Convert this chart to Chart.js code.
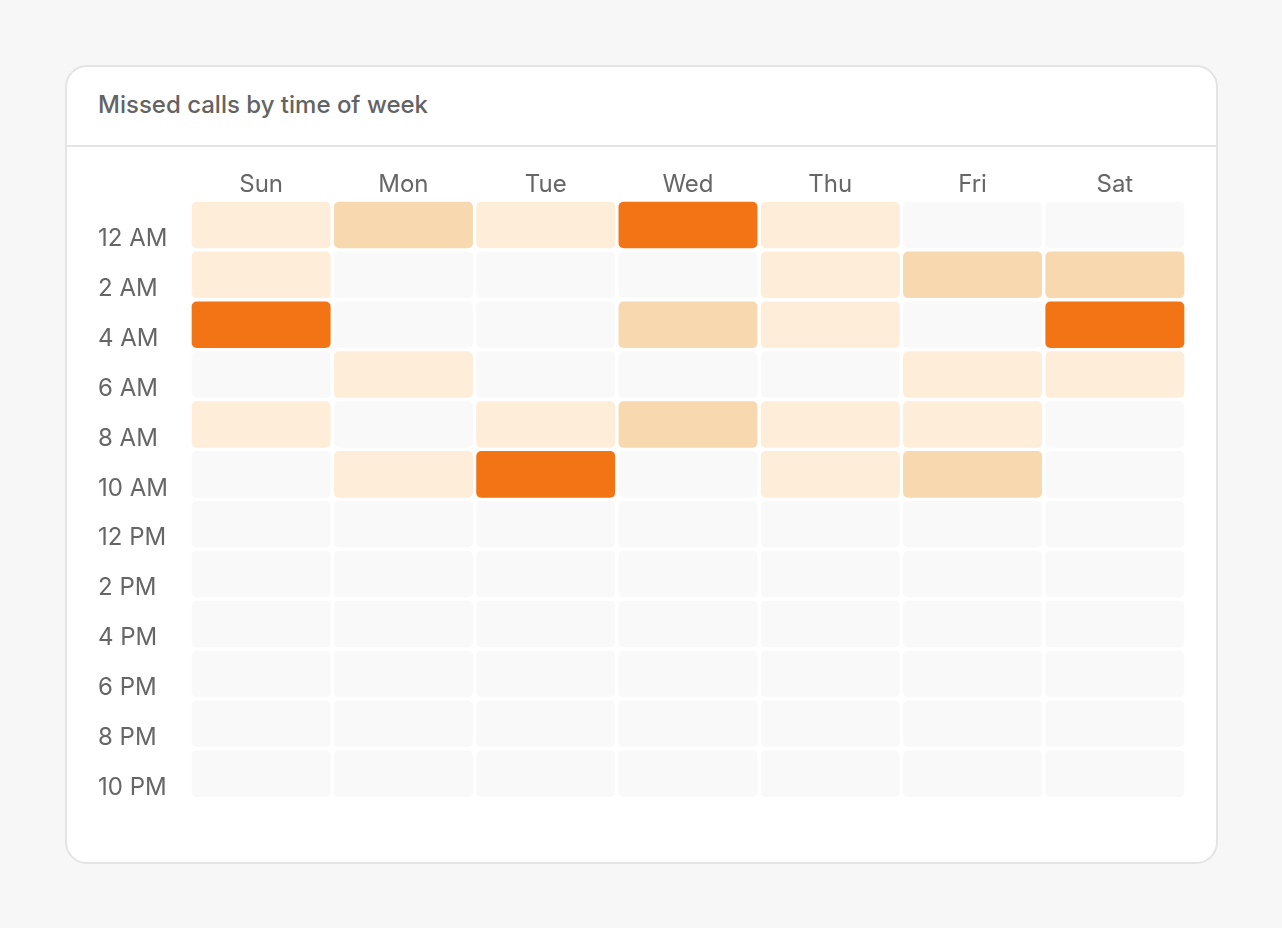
<!DOCTYPE html>
<html>
<head>
<meta charset="utf-8">
<script src="https://cdn.jsdelivr.net/npm/chart.js"></script>
<style>
  body { margin: 0; background: #f7f7f7; font-family: Inter, sans-serif; }
  .card {
    position: absolute; left: 65px; top: 65px; width: 1149px; height: 795px;
    background: #fff; border: 2px solid #e4e4e4; border-radius: 22px;
  }
  .card h2 {
    margin: 0; height: 78px; line-height: 76px; padding-left: 31px;
    font-size: 24px; font-weight: 500; color: #636363;
    border-bottom: 2px solid #e4e4e4;
  }
  .wrap { position: absolute; left: 31px; top: 93px; width: 1088px; height: 653px; }
</style>
</head>
<body>
<div class="card">
  <h2>Missed calls by time of week</h2>
  <div class="wrap"><canvas id="myChart"></canvas></div>
</div>
<script>
const days = ["Sun", "Mon", "Tue", "Wed", "Thu", "Fri", "Sat"];
const hours = ["12 AM", "2 AM", "4 AM", "6 AM", "8 AM", "10 AM",
               "12 PM", "2 PM", "4 PM", "6 PM", "8 PM", "10 PM"];

// missed calls per 2-hour slot, one array per day
const sun = [1, 1, 3, 0, 1, 0, 0, 0, 0, 0, 0, 0];
const mon = [2, 0, 0, 1, 0, 1, 0, 0, 0, 0, 0, 0];
const tue = [1, 0, 0, 0, 1, 3, 0, 0, 0, 0, 0, 0];
const wed = [3, 0, 2, 0, 2, 0, 0, 0, 0, 0, 0, 0];
const thu = [1, 1, 1, 0, 1, 1, 0, 0, 0, 0, 0, 0];
const fri = [0, 2, 0, 1, 1, 2, 0, 0, 0, 0, 0, 0];
const sat = [0, 2, 3, 1, 0, 0, 0, 0, 0, 0, 0, 0];

const byDay = [sun, mon, tue, wed, thu, fri, sat];
const shades = ["#f9f9f9", "#fdedd9", "#f8d8ae", "#f27415"];

// one floating-bar dataset per time slot row
const datasets = hours.map((h, r) => ({
    label: h,
    data: days.map(() => [r, r + 1]),
    backgroundColor: days.map((d, c) => shades[byDay[c][r]]),
    hoverBackgroundColor: days.map((d, c) => shades[byDay[c][r]]),
    borderColor: "#fff",
    hoverBorderColor: "#fff",
    borderWidth: 2,
    borderRadius: 7,
    borderSkipped: false,
    grouped: false,
    categoryPercentage: 1,
    barPercentage: 1
}));

new Chart("myChart", {
    type: "bar",
    data: { labels: days, datasets: datasets },
    options: {
        responsive: true,
        maintainAspectRatio: false,
        animation: false,
        layout: { padding: 0 },
        plugins: { legend: { display: false }, tooltip: { enabled: false } },
        scales: {
            x: {
                position: "top",
                grid: { display: false, drawTicks: false },
                border: { display: false },
                ticks: { color: "#666", font: { family: "Inter", size: 24 }, padding: 1 },
                afterFit: s => { s.height = 40; }
            },
            y: {
                min: 0,
                max: hours.length,
                reverse: true,
                grid: { display: false, drawTicks: false },
                border: { display: false },
                afterBuildTicks: s => { s.ticks = hours.map((h, i) => ({ value: i + 0.5 })); },
                ticks: {
                    color: "#666",
                    font: { family: "Inter", size: 24 },
                    crossAlign: "far",
                    labelOffset: 14,
                    padding: 0,
                    callback: v => hours[Math.floor(v)]
                },
                afterFit: s => { s.width = 92; }
            }
        }
    }
});
</script>
</body>
</html>
